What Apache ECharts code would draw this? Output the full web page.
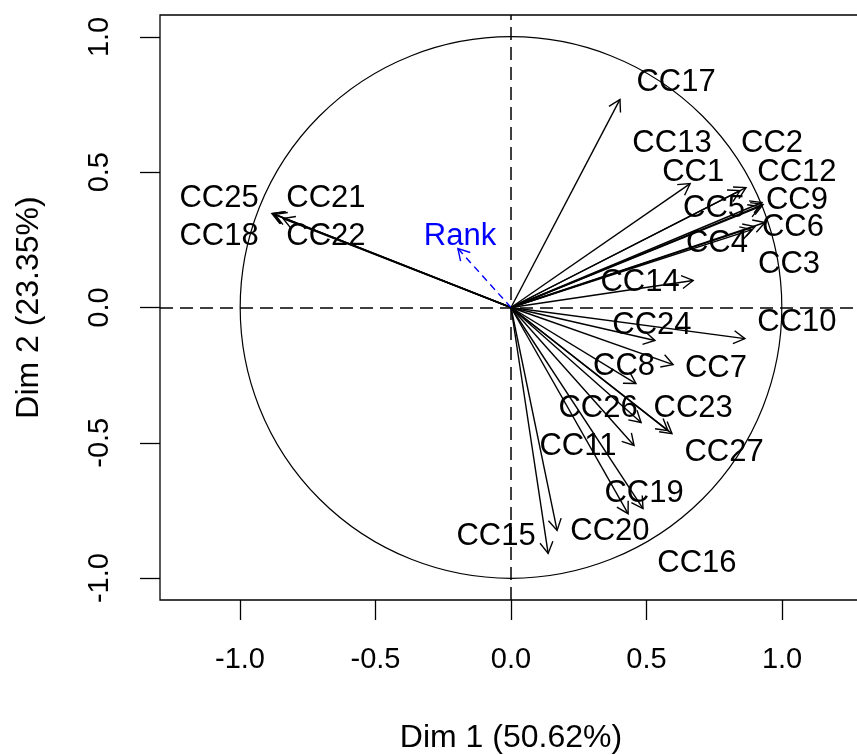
<!DOCTYPE html>
<html>
<head>
<meta charset="utf-8">
<script src="https://cdn.jsdelivr.net/npm/echarts@6/dist/echarts.min.js"></script>
<style>
  html, body { margin: 0; padding: 0; background: #fff; }
  #chart { width: 857px; height: 755px; }
</style>
</head>
<body>
<div id="chart"></div>
<script>
// active variables: coordinates on Dim 1 / Dim 2
var varNames = ['CC1', 'CC2', 'CC3', 'CC4', 'CC5', 'CC6', 'CC7', 'CC8', 'CC9', 'CC10',
  'CC11', 'CC12', 'CC13', 'CC14', 'CC15', 'CC16', 'CC17', 'CC18', 'CC19', 'CC20',
  'CC21', 'CC22', 'CC23', 'CC24', 'CC25', 'CC26', 'CC27']
var dim1 = [0.661, 0.867, 0.900, 0.889, 0.919, 0.937, 0.598, 0.461, 0.930, 0.863,
  0.454, 0.926, 0.845, 0.672, 0.137, 0.432, 0.402, -0.878, 0.487, 0.170,
  -0.871, -0.841, 0.594, 0.531, -0.882, 0.480, 0.579]
var dim2 = [0.458, 0.443, 0.299, 0.288, 0.373, 0.314, -0.211, -0.281, 0.381, -0.115,
  -0.510, 0.388, 0.432, 0.100, -0.909, -0.762, 0.769, 0.347, -0.743, -0.824,
  0.344, 0.329, -0.466, -0.122, 0.347, -0.425, -0.455]
// where the (repelled) labels sit, in axis units
var labelX = [0.672, 0.963, 1.026, 0.760, 0.749, 1.040, 0.756, 0.417, 1.055, 1.055,
  0.247, 1.055, 0.594, 0.476, -0.055, 0.686, 0.609, -1.077, 0.491, 0.365,
  -0.683, -0.683, 0.672, 0.520, -1.077, 0.321, 0.786]
var labelY = [0.499, 0.606, 0.159, 0.237, 0.366, 0.296, -0.225, -0.218, 0.396, -0.055,
  -0.514, 0.499, 0.606, 0.092, -0.847, -0.946, 0.832, 0.262, -0.688, -0.828,
  0.403, 0.262, -0.373, -0.067, 0.403, -0.373, -0.536]

// supplementary variable
var supNames = ['Rank']
var supDim1 = [-0.196]
var supDim2 = [0.218]
var supLabelX = [-0.188]
var supLabelY = [0.262]

var tickValues = [-1, -0.5, 0, 0.5, 1]
var xTitle = 'Dim 1 (50.62%)'
var yTitle = 'Dim 2 (23.35%)'

var FONT = '"Liberation Sans", Arial, sans-serif'

function arrowRenderer(color, dash) {
  return function (params, api) {
    var o = api.coord([0, 0])
    var p = api.coord([api.value(0), api.value(1)])
    var ang = Math.atan2(p[1] - o[1], p[0] - o[0])
    var L = 13, a = Math.PI / 6
    var h1 = [p[0] - L * Math.cos(ang - a), p[1] - L * Math.sin(ang - a)]
    var h2 = [p[0] - L * Math.cos(ang + a), p[1] - L * Math.sin(ang + a)]
    return {
      type: 'group',
      children: [
        {
          type: 'line',
          shape: { x1: o[0], y1: o[1], x2: p[0], y2: p[1] },
          style: { stroke: color, lineWidth: 1.4, lineDash: dash }
        },
        {
          type: 'polyline',
          shape: { points: [h1, p, h2] },
          style: { stroke: color, fill: null, lineWidth: 1.4 }
        }
      ]
    }
  }
}

function labelRenderer(color) {
  return function (params, api) {
    var p = api.coord([api.value(0), api.value(1)])
    return {
      type: 'text',
      x: p[0],
      y: p[1],
      style: {
        text: api.value(2),
        font: '31px ' + FONT,
        fill: color,
        align: 'center',
        verticalAlign: 'middle',
        textAlign: 'center',
        textVerticalAlign: 'middle'
      }
    }
  }
}

var arrowData = varNames.map(function (n, i) { return [dim1[i], dim2[i], n] })
var labelData = varNames.map(function (n, i) { return [labelX[i], labelY[i], n] })
var supArrowData = supNames.map(function (n, i) { return [supDim1[i], supDim2[i], n] })
var supLabelData = supNames.map(function (n, i) { return [supLabelX[i], supLabelY[i], n] })

var chart = echarts.init(document.getElementById('chart'), null, { renderer: 'canvas' })

var axisCommon = {
  type: 'value',
  axisLine: { show: false, onZero: false },
  splitLine: { show: false },
  axisTick: {
    show: true,
    length: 20,
    customValues: tickValues,
    lineStyle: { color: '#000', width: 1.3 }
  },
  nameLocation: 'middle',
  nameTextStyle: { color: '#000', fontSize: 32, fontFamily: FONT }
}

var option = {
  animation: false,
  backgroundColor: '#fff',
  grid: {
    left: 160,
    top: 15,
    width: 702,
    height: 585,
    outerBoundsMode: 'none',
    containLabel: false,
    show: true,
    borderColor: '#000',
    borderWidth: 1.3,
    backgroundColor: 'transparent'
  },
  xAxis: Object.assign({}, axisCommon, {
    min: -1.295,
    max: 1.295,
    name: xTitle,
    nameGap: 122,
    axisLabel: {
      customValues: tickValues,
      margin: 45,
      color: '#000',
      fontSize: 29,
      fontFamily: FONT,
      formatter: function (v) { return v.toFixed(1) }
    }
  }),
  yAxis: Object.assign({}, axisCommon, {
    min: -1.081,
    max: 1.081,
    name: yTitle,
    nameGap: 115,
    nameRotate: 90,
    axisLabel: {
      customValues: tickValues,
      rotate: 90,
      margin: 46,
      color: '#000',
      fontSize: 29,
      fontFamily: FONT,
      formatter: function (v) { return v.toFixed(1) }
    }
  }),
  series: [
    {
      // correlation circle plus the dashed axes through the origin
      type: 'custom',
      silent: true,
      data: [[0, 0]],
      renderItem: function (params, api) {
        var c = api.coord([0, 0])
        var r = api.size([1, 1])
        return {
          type: 'arc',
          shape: { cx: c[0], cy: c[1], r: (r[0] + r[1]) / 2, startAngle: 0, endAngle: Math.PI * 2 },
          style: { stroke: '#000', fill: null, lineWidth: 1.2 }
        }
      },
      markLine: {
        silent: true,
        symbol: 'none',
        label: { show: false },
        lineStyle: { color: '#000', type: [13, 7], width: 1.5 },
        data: [{ xAxis: 0 }, { yAxis: 0 }]
      }
    },
    {
      type: 'custom',
      silent: true,
      data: arrowData,
      renderItem: arrowRenderer('#000', null)
    },
    {
      type: 'custom',
      silent: true,
      data: supArrowData,
      renderItem: arrowRenderer('#0000ff', [7, 5])
    },
    {
      type: 'custom',
      silent: true,
      data: labelData,
      renderItem: labelRenderer('#000')
    },
    {
      type: 'custom',
      silent: true,
      data: supLabelData,
      renderItem: labelRenderer('#0000ff')
    }
  ]
}

chart.setOption(option)
</script>
</body>
</html>
